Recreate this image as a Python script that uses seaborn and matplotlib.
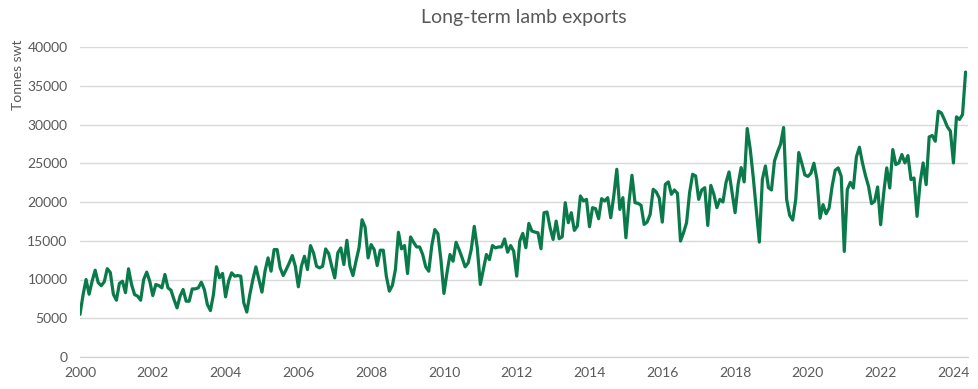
import numpy as np
import pandas as pd
import matplotlib
matplotlib.use("Agg")
import matplotlib.pyplot as plt
import seaborn as sns

# Monthly lamb exports, tonnes swt, Jan 2000 onwards
exports_2000_2005 = [
    5500, 8000, 10000, 8100, 9800, 11200, 9600, 9200, 9700, 11400, 10900, 8100,
    7330, 9500, 9780, 8300, 11380, 9350, 8060, 7850, 7330, 10000, 10950, 9780,
    7930, 9350, 9220, 8920, 10650, 8920, 8620, 7410, 6340, 7850, 8710, 7200,
    7200, 8790, 8790, 8920, 9650, 8710, 6770, 5990, 8060, 11640, 10220, 10780,
    7760, 9790, 10860, 10430, 10510, 10430, 7000, 5800, 8070, 10000, 11630, 10000,
    8370, 11070, 12790, 11070, 13860, 13860, 11500, 10510, 11290, 12140, 13090, 11710,
]
exports_2006_2011 = [
    9060, 11710, 13000, 11290, 14370, 13430, 11710, 11500, 11710, 13940, 13340, 11710,
    10210, 13430, 14070, 11930, 15060, 11710, 10510, 12360, 14070, 17710, 16770, 12790,
    14500, 13860, 11800, 13780, 13780, 10430, 8500, 9230, 11290, 16090, 13950, 14380,
    10770, 15490, 14800, 14200, 14200, 13220, 11630, 11070, 14380, 16440, 15920, 12570,
    8200, 10860, 13220, 12360, 14800, 13860, 12790, 11630, 12140, 13860, 16860, 14080,
    9360, 11290, 13220, 12570, 14380, 14080, 14200, 14200, 15230, 13520, 14380, 13650,
]
exports_2012_2017 = [
    10430, 14960, 15950, 14100, 17240, 16250, 16120, 16030, 13970, 18620, 18710, 16680,
    15170, 17540, 15260, 15520, 19910, 17330, 18620, 16340, 16900, 20780, 20130, 20340,
    16810, 19270, 19140, 17840, 20430, 20130, 20560, 17970, 20780, 24220, 19050, 20560,
    15390, 19910, 23450, 19910, 19830, 19570, 17110, 17410, 18400, 21640, 21300, 20500,
    17400, 22280, 22590, 20990, 21550, 21120, 14960, 16030, 17330, 21210, 23580, 23360,
    20340, 21550, 21850, 16980, 22150, 20990, 19270, 20340, 20000, 22500, 23880, 21210,
]
exports_2018_2024 = [
    18620, 22280, 24440, 22590, 29480, 26810, 23150, 19050, 14830, 22930, 24650, 21850,
    21550, 25300, 26470, 27460, 29610, 20340, 18280, 17670, 20340, 26380, 25000, 23500,
    23300, 23700, 25000, 22900, 17900, 19660, 18490, 19220, 22030, 24090, 24400, 23320,
    13620, 21600, 22540, 21810, 25820, 27070, 25040, 23400, 22030, 19790, 20090, 21940,
    17070, 21160, 24400, 21810, 26770, 24830, 25040, 26120, 25040, 25990, 22890, 23100,
    18150, 22460, 25040, 22240, 28400, 28580, 27840, 31720, 31500, 30650, 29700, 29140,
    25040, 30990, 30650, 31290, 36770,
]
year_ticks = list(range(2000, 2025, 2))
y_ticks = list(range(0, 40001, 5000))

exports = exports_2000_2005 + exports_2006_2011 + exports_2012_2017 + exports_2018_2024
df = pd.DataFrame({"month": np.arange(len(exports)), "tonnes": exports})
df["date"] = 2000 + df["month"] / 12

sns.set_style("white")
plt.rcParams["font.family"] = ["Lato", "DejaVu Sans"]

fig = plt.figure(figsize=(9.79, 3.89), dpi=100)
ax = fig.add_axes([80 / 979, 32 / 389, 888 / 979, 310 / 389])

sns.lineplot(data=df, x="date", y="tonnes", color="#0b7a4b", linewidth=2.3, ax=ax)

ax.set_xlim(2000, 2000 + 24.4)
ax.set_ylim(0, 40000)
ax.set_xticks(year_ticks)
ax.set_xticklabels([str(y) for y in year_ticks])
ax.set_yticks(y_ticks)
ax.set_yticklabels([str(v) for v in y_ticks])
ax.grid(axis="y", color="#d9d9d9", linewidth=1.0)
ax.set_axisbelow(True)
for side in ["left", "right", "top"]:
    ax.spines[side].set_visible(False)
ax.spines["bottom"].set_color("#d0d0d0")
ax.tick_params(axis="both", length=0, labelsize=10, labelcolor="#595959")
ax.tick_params(axis="y", pad=9)
ax.tick_params(axis="x", pad=7)

ax.set_xlabel("")
ax.set_ylabel("")
fig.text(18 / 979, 1 - 40 / 389, "Tonnes swt", rotation=90, ha="center", va="top",
         fontsize=10, color="#595959")
ax.set_title("Long-term lamb exports", fontsize=14, color="#595959", pad=17)

fig.savefig("out.png", dpi=100)
